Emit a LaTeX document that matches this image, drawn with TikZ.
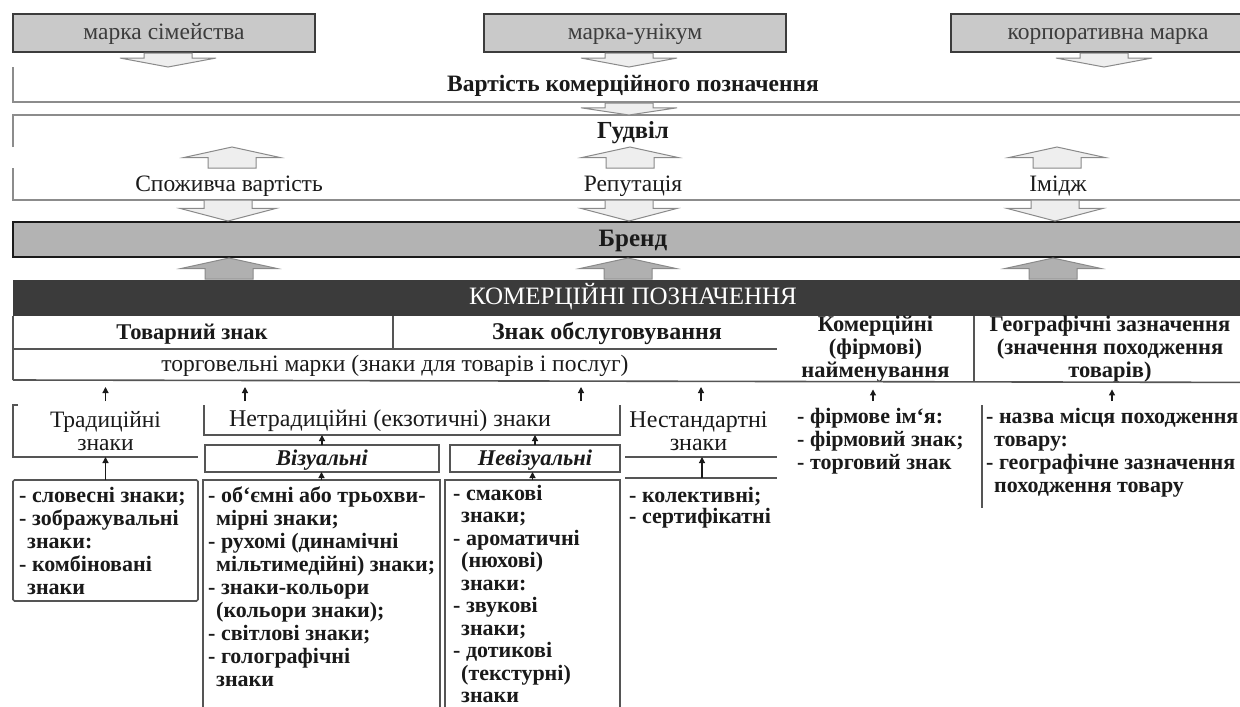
\documentclass[tikz,border=0pt]{standalone}
\usepackage{fontspec}
\setmainfont{Liberation Serif}
\usetikzlibrary{arrows.meta,calc}
\definecolor{boxfill}{HTML}{C9C9C9}
\definecolor{brendfill}{HTML}{B3B3B3}
\definecolor{komfill}{HTML}{3B3B3B}
\definecolor{arrfill}{HTML}{EEEEEE}
\definecolor{arrgray}{HTML}{B0B0B0}
\definecolor{arrline}{HTML}{8A8A8A}
\definecolor{ink}{HTML}{1A1A1A}
\definecolor{lineg}{HTML}{555555}
\definecolor{lightline}{HTML}{8C8C8C}
\newcommand\fsTop{\fontsize{23.5}{26}\selectfont}
\newcommand\fsMid{\fontsize{22.5}{23}\selectfont}
\newcommand\fsSec{\fontsize{23.5}{23}\selectfont}
\newcommand\fsList{\fontsize{22}{23}\selectfont}
\newcommand\fsListC{\fontsize{22}{22.5}\selectfont}
\newcommand\fsListB{\fontsize{22}{21}\selectfont}
% block arrows: #1 centre x, #2 top y, #3 bottom y, #4 style, #5 fraction
\newcommand\blkdown[5]{\filldraw[#4] ({#1-24},#2) -- ({#1+24},#2) -- ({#1+24},{#2+#5*(#3-#2)}) -- ({#1+48},{#2+#5*(#3-#2)}) -- (#1,#3) -- ({#1-48},{#2+#5*(#3-#2)}) -- ({#1-24},{#2+#5*(#3-#2)}) -- cycle;}
\newcommand\blkup[5]{\filldraw[#4] ({#1-24},#3) -- ({#1+24},#3) -- ({#1+24},{#2+#5*(#3-#2)}) -- ({#1+48},{#2+#5*(#3-#2)}) -- (#1,#2) -- ({#1-48},{#2+#5*(#3-#2)}) -- ({#1-24},{#2+#5*(#3-#2)}) -- cycle;}
\begin{document}
\begin{tikzpicture}[x=1pt,y=-1pt,
  cell/.style={inner sep=0pt, outer sep=0pt, anchor=north west, text=ink},
  sl/.style={text height=17pt, text depth=4pt},
  topbox/.style={cell, sl, draw=ink!85, line width=2pt, fill=boxfill, text=ink!85, font=\fsTop, minimum height=38pt},
  hd/.style={inner sep=0pt, sl, text=ink, font=\fsTop\bfseries},
  plain/.style={inner sep=0pt, sl, text=ink, font=\fsTop},
  bracket/.style={draw=lightline, line width=1.3pt},
  tline/.style={draw=lineg, line width=1.6pt},
  hollow/.style={fill=arrfill, draw=arrline, line width=1pt},
  grayarr/.style={fill=arrgray, draw=arrline, line width=1pt},
  sarr/.style={draw=ink, line width=1.2pt, -{Triangle[width=6pt,length=6pt]}, shorten <=4pt, shorten >=7pt},
  sarrf/.style={draw=ink, line width=1.2pt, -{Triangle[width=6pt,length=6pt]}},
  listtxt/.style={inner sep=0pt, anchor=north west, align=left, text=ink, font=\fsList\bfseries},
]
\useasboundingbox (0,0) rectangle (1240,707);
\fill[white] (0,0) rectangle (1240,707);

% ---- top boxes
\node[topbox, minimum width=302pt] (fam) at (13,14) {марка сімейства};
\node[topbox, minimum width=302pt] (uni) at (484,14) {марка-унікум};
\node[topbox, minimum width=314pt] (corp) at (951,14) {корпоративна марка};

% ---- frames
\node[cell, sl, minimum width=1240pt, minimum height=35pt, font=\fsTop\bfseries] (vart) at (13,67) {Вартість комерційного позначення};
\draw[bracket] (vart.north west) -- (vart.south west) -- (vart.south east);
\node[cell, minimum width=1240pt, minimum height=32pt] (gud) at (13,115) {};
\node[hd, font=\fontsize{24.5}{26}\selectfont\bfseries] (gudt) at (633,132) {Гудвіл};
\draw[bracket] (gud.south west) -- (gud.north west) -- (gud.north east);
\node[cell, minimum width=1240pt, minimum height=32pt] (spoz) at (13,168) {};
\draw[bracket] (spoz.north west) -- (spoz.south west) -- (spoz.south east);
\node[plain] (spv) at (229,185) {Споживча вартість};
\node[plain] (rep) at (633,185) {Репутація};
\node[plain] (imi) at (1058,185) {Імідж};

\node[cell, sl, draw=ink, line width=2pt, fill=brendfill, minimum width=1240pt, minimum height=35pt, font=\fontsize{25}{26}\selectfont\bfseries] (brend) at (13,222) {Бренд};
\node[cell, sl, fill=komfill, minimum width=1240pt, minimum height=36pt, text=white, font=\fontsize{25}{26}\selectfont] (kom) at (13,280) {КОМЕРЦІЙНІ ПОЗНАЧЕННЯ};

% ---- block arrows
\blkdown{168}{53}{67}{hollow}{0.36}
\blkdown{629}{53}{67}{hollow}{0.36}
\blkdown{1104}{53}{67}{hollow}{0.36}
\blkdown{629}{103}{115}{hollow}{0.4}
\blkup{232}{147}{168}{hollow}{0.5}
\blkup{630}{147}{168}{hollow}{0.5}
\blkup{1057}{147}{168}{hollow}{0.5}
\blkdown{228}{200}{221}{hollow}{0.4}
\blkdown{629}{200}{221}{hollow}{0.4}
\blkdown{1055}{200}{221}{hollow}{0.4}
\blkup{229}{258}{279}{grayarr}{0.5}
\blkup{628}{258}{279}{grayarr}{0.5}
\blkup{1053}{258}{279}{grayarr}{0.5}

% ---- table of designations
\node[cell, minimum width=380pt, minimum height=33pt] (tov) at (13,316) {};
\node[hd, font=\fontsize{22.5}{26}\selectfont\bfseries] (tovt) at (192,333) {Товарний знак};
\node[cell, minimum width=384pt, minimum height=33pt] (zob) at (393,316) {};
\node[hd, font=\fontsize{24}{26}\selectfont\bfseries] (zobt) at (607,333) {Знак обслуговування};
\node[cell, sl, minimum width=764pt, minimum height=31pt, font=\fsTop] (torg) at (13,349) {торговельні марки (знаки для товарів і послуг)};
\node[cell, minimum width=197pt, minimum height=64pt, align=center, font=\fsMid\bfseries] (kfn) at (777,316) {Комерційні\\(фірмові)\\найменування};
\node[cell, minimum width=272pt, minimum height=64pt, align=center, font=\fsMid\bfseries] (geo) at (974,316) {Географічні зазначення\\(значення походження\\товарів)};
\draw[tline] (tov.north west) -- (torg.south west);
\draw[tline] (tov.north east) -- (tov.south east);
\draw[tline] (tov.south west) -- (zob.south east);
\draw[tline] (torg.south west) -- (geo.south east);
\draw[tline] (geo.north west) -- (geo.south west);

% ---- second level
\node[cell, minimum width=185pt, minimum height=52pt, align=center, font=\fsSec] (trad) at (13,405) {Традиційні\\знаки};
\draw[tline] ($(trad.north west)+(5,0)$) -- (trad.north west) -- (trad.south west) -- (trad.south east);
\node[cell, minimum width=416pt, minimum height=30pt] (netr) at (204,405) {};
\node[inner sep=0pt, sl, text=ink, font=\fontsize{24}{26}\selectfont] (netrt) at (390,420) {Нетрадиційні (екзотичні) знаки};
\draw[tline] (netr.north west) -- (netr.south west) -- (netr.south east) -- (netr.north east);
\node[cell, sl, draw=lineg, line width=1.6pt, minimum width=234pt, minimum height=27pt, font=\fsMid\bfseries\itshape] (viz) at (205,445) {Візуальні};
\node[cell, sl, draw=lineg, line width=1.6pt, minimum width=170pt, minimum height=27pt, font=\fsMid\bfseries\itshape] (neviz) at (450,445) {Невізуальні};
\node[cell, minimum width=157pt, minimum height=52pt, align=center, font=\fontsize{24}{23}\selectfont] (nest) at (620,405) {Нестандартні\\знаки};
\draw[tline] ($(nest.south west)+(5,0)$) -- (nest.south east);

% ---- lists
\node[cell, draw=lineg, line width=1.6pt, rounded corners=1.5pt, minimum width=185pt, minimum height=121pt] (l1) at (13,480) {};
\node[listtxt] (l1t) at ($(l1.north west)+(6,7)$) {- словесні знаки;\\- зображувальні\\\hspace*{8pt}знаки:\\- комбіновані\\\hspace*{8pt}знаки};
\node[cell, minimum width=237pt, minimum height=240pt] (l2) at (203,480) {};
\draw[tline] (l2.south west) -- (l2.north west) -- (l2.north east) -- (l2.south east);
\node[listtxt] (l2t) at ($(l2.north west)+(5,7)$) {- об`ємні або трьохви-\\\hspace*{8pt}мірні знаки;\\- рухомі (динамічні\\\hspace*{8pt}мільтимедійні) знаки;\\- знаки-кольори\\\hspace*{8pt}(кольори знаки);\\- світлові знаки;\\- голографічні\\\hspace*{8pt}знаки};
\node[cell, minimum width=175pt, minimum height=240pt] (l3) at (445,480) {};
\draw[tline] (l3.south west) -- (l3.north west) -- (l3.north east) -- (l3.south east);
\node[listtxt, font=\fsListC\bfseries] (l3t) at ($(l3.north west)+(8,5)$) {- смакові\\\hspace*{8pt}знаки;\\- ароматичні\\\hspace*{8pt}(нюхові)\\\hspace*{8pt}знаки:\\- звукові\\\hspace*{8pt}знаки;\\- дотикові\\\hspace*{8pt}(текстурні)\\\hspace*{8pt}знаки};
\node[cell, minimum width=152pt, minimum height=54pt] (l4) at (625,478) {};
\draw[tline] (l4.north west) -- (l4.north east);
\node[listtxt, font=\fsListB\bfseries] (l4t) at ($(l4.north west)+(4,9)$) {- колективні;\\- сертифікатні};
\node[cell, minimum width=166pt, minimum height=80pt] (l5) at (790,405) {};
\node[listtxt] (l5t) at ($(l5.north west)+(7,3)$) {- фірмове ім`я:\\- фірмовий знак;\\- торговий знак};
\node[cell, minimum width=258pt, minimum height=103pt] (l6) at (982,405) {};
\draw[tline] (l6.north west) -- (l6.south west);
\node[listtxt] (l6t) at ($(l6.north west)+(4,3)$) {- назва місця походження\\\hspace*{8pt}товару:\\- географічне зазначення\\\hspace*{8pt}походження товару};

% ---- small connectors
\coordinate (a1) at ($(netr.north west)+(41,0)$);
\coordinate (a2) at ($(netr.north east)+(-39,0)$);
\coordinate (a3) at ($(nest.north west)+(81,0)$);
\coordinate (a4) at ($(l6.north west)+(130,0)$);
\coordinate (a5) at ($(l4.north west)+(77,0)$);
\draw[sarr] (trad.north) -- (trad.north |- torg.south);
\draw[sarr] (a1) -- (a1 |- torg.south);
\draw[sarr] (a2) -- (a2 |- torg.south);
\draw[sarr] (a3) -- (a3 |- torg.south);
\draw[sarr] (l5.north) -- (l5.north |- kfn.south);
\draw[sarr] (a4) -- (a4 |- geo.south);
\draw[sarrf] (viz.north) -- (viz.north |- netr.south);
\draw[sarrf] (neviz.north) -- (neviz.north |- netr.south);
\draw[sarrf] (l1.north) -- (l1.north |- trad.south);
\draw[sarrf] (l2.north) -- (l2.north |- viz.south);
\draw[sarrf] (l3.north) -- (l3.north |- neviz.south);
\draw[sarrf] (a5) -- (a5 |- nest.south);
\end{tikzpicture}
\end{document}
